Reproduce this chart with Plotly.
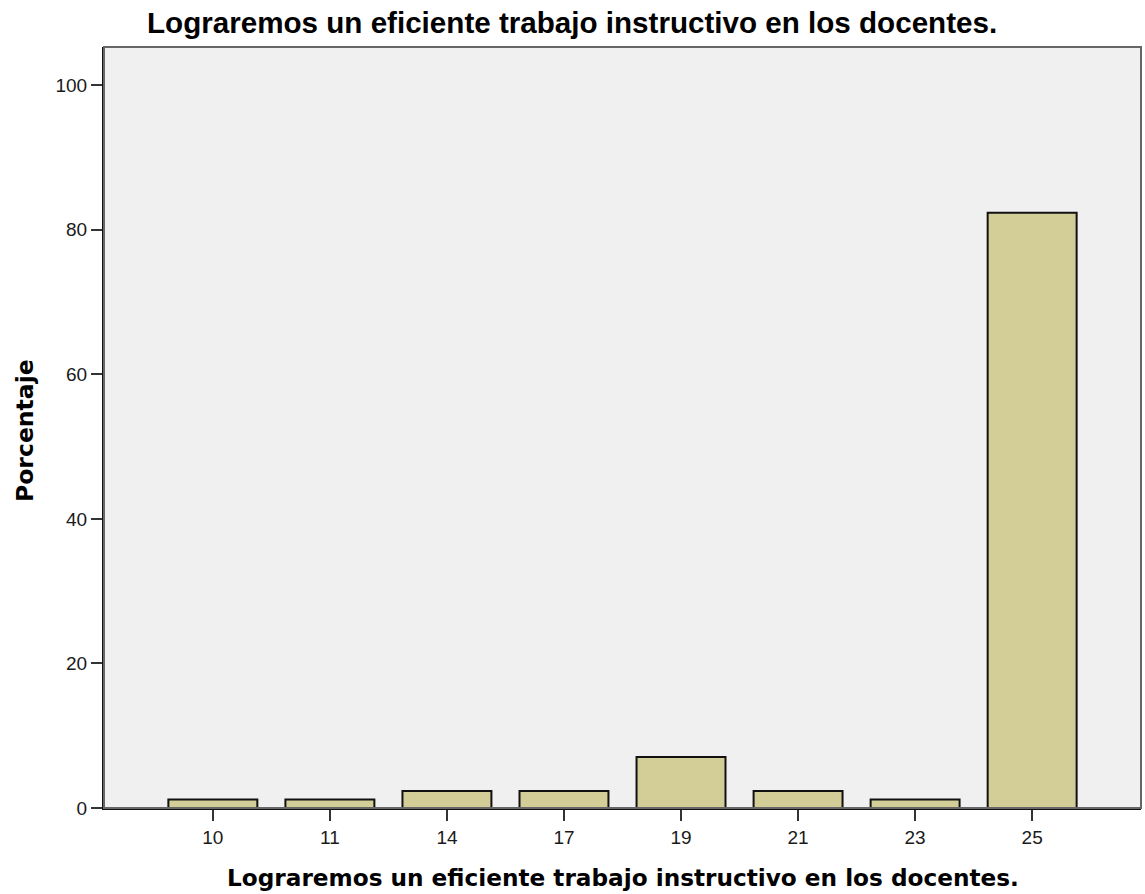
import plotly.graph_objects as go

categories = ["10", "11", "14", "17", "19", "21", "23", "25"]
percentages = [1.18, 1.18, 2.35, 2.35, 7.06, 2.35, 1.18, 82.35]
y_ticks = [0, 20, 40, 60, 80, 100]

title_text = "Lograremos un eficiente trabajo instructivo en los docentes."
x_title = "Lograremos un eficiente trabajo instructivo en los docentes."
y_title = "Porcentaje"

fig = go.Figure()
fig.add_trace(go.Bar(
    x=categories, y=percentages,
    width=0.76,
    marker=dict(color="#D3CE97", line=dict(color="#111111", width=2)),
    hoverinfo="x+y",
))

W, H = 1145, 894
plot_left, plot_right, plot_top, plot_bottom = 104, 1141, 47, 808
ml = plot_left
mt = plot_top
pw = plot_right - plot_left
ph = plot_bottom - plot_top
mr = W - ml - pw
mb = H - mt - ph

def px_x(x):
    return (x - plot_left) / pw

def px_y(y):
    return (plot_bottom - y) / ph

fig.update_layout(
    width=W, height=H,
    margin=dict(l=ml, r=mr, t=mt, b=mb, pad=0),
    paper_bgcolor="white",
    plot_bgcolor="#F0F0F0",
    showlegend=False,
    font=dict(family="Liberation Sans, Arial, sans-serif", size=19, color="#1a1a1a"),
    xaxis=dict(
        type="category",
        range=[-0.93, 7.93],
        showgrid=False, zeroline=False,
        showline=True, linecolor="#111111", linewidth=2,
        ticks="outside", ticklen=11, tickwidth=2, tickcolor="#333333",
        tickfont=dict(family="Liberation Sans, Arial, sans-serif", size=19, color="#1a1a1a"),
    ),
    yaxis=dict(
        range=[0, 105.3],
        tickvals=y_ticks,
        showgrid=False, zeroline=False,
        showline=True, linecolor="#111111", linewidth=2,
        ticks="outside", ticklen=11, tickwidth=2, tickcolor="#333333",
        tickfont=dict(family="Liberation Sans, Arial, sans-serif", size=19, color="#1a1a1a"),
    ),
    shapes=[dict(
        type="rect", xref="paper", yref="paper", x0=0, x1=1, y0=0, y1=1,
        line=dict(color="#666666", width=2), fillcolor="rgba(0,0,0,0)", layer="above",
    )],
    annotations=[
        dict(text="<b>" + title_text + "</b>", xref="paper", yref="paper",
             x=px_x(145), y=px_y(22.5), xanchor="left", yanchor="middle", showarrow=False,
             font=dict(family="Liberation Sans, Arial, sans-serif", size=29.6, color="#000000")),
        dict(text="<b>" + x_title + "</b>", xref="paper", yref="paper",
             x=0.5, y=px_y(877), xanchor="center", yanchor="middle", showarrow=False,
             font=dict(family="DejaVu Sans, sans-serif", size=23.2, color="#000000")),
        dict(text="<b>" + y_title + "</b>", xref="paper", yref="paper",
             x=px_x(25), y=px_y(431), xanchor="center", yanchor="middle", showarrow=False,
             textangle=-90,
             font=dict(family="DejaVu Sans, sans-serif", size=23.5, color="#000000")),
    ],
)

fig.write_html("out.html", config={"displayModeBar": False},
               post_script="document.body.style.margin='0';")
